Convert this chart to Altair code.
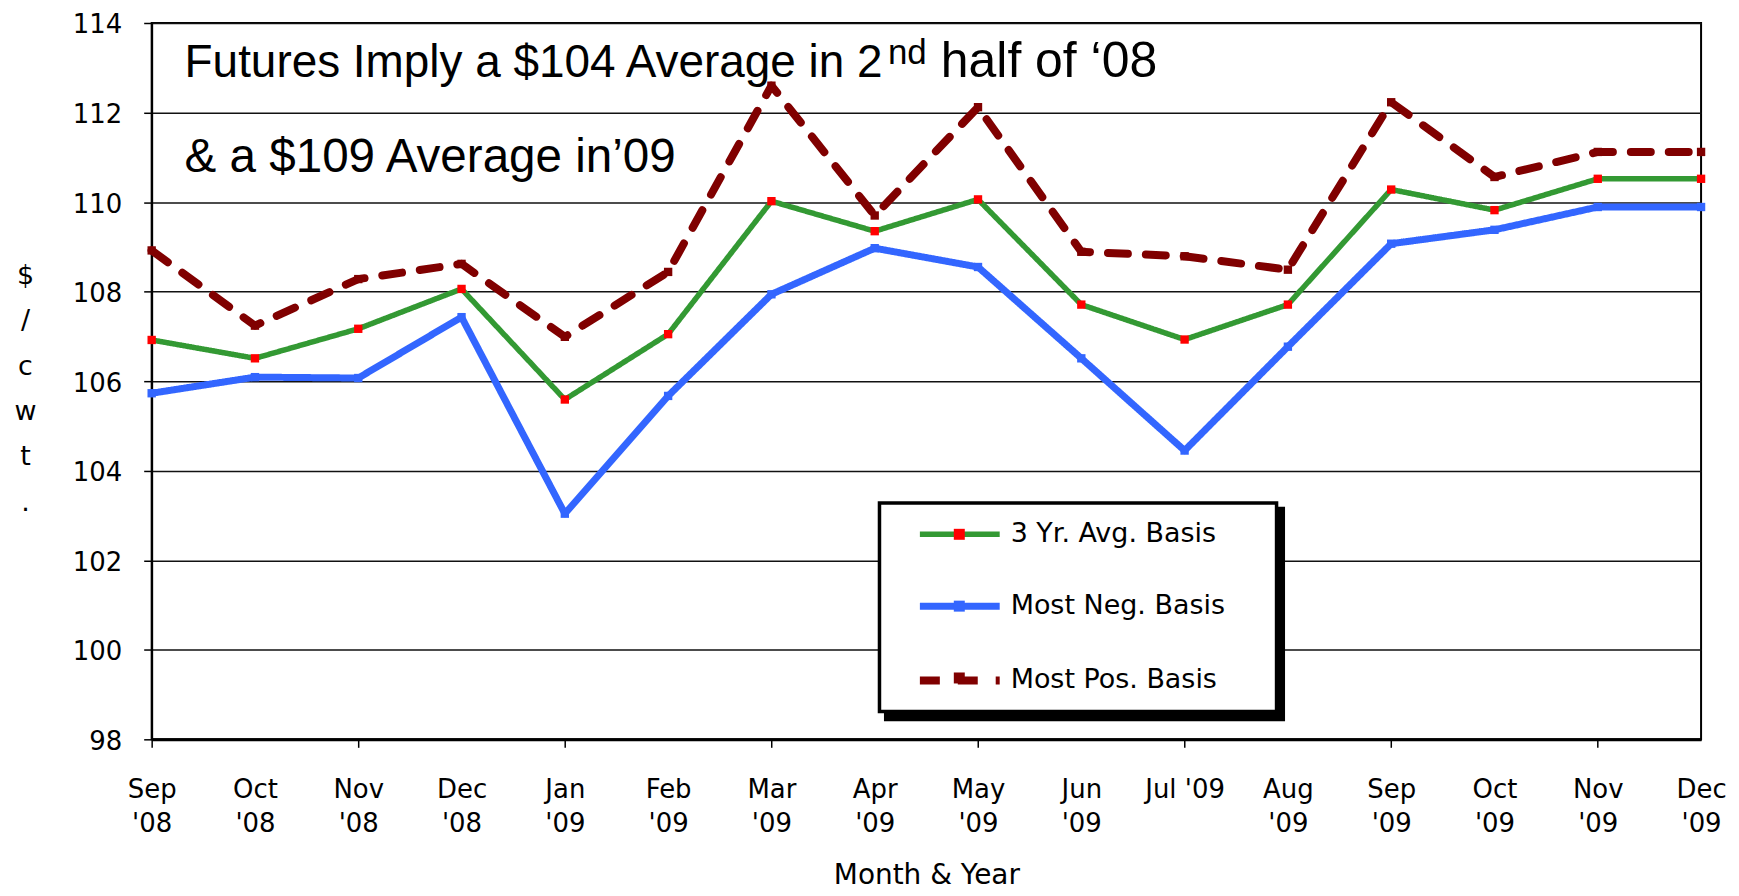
import json
import altair as alt
import pandas as pd

# ---------------- data ----------------
months = ["Sep '08", "Oct '08", "Nov '08", "Dec '08", "Jan '09", "Feb '09",
          "Mar '09", "Apr '09", "May '09", "Jun '09", "Jul '09", "Aug '09",
          "Sep '09", "Oct '09", "Nov '09", "Dec '09"]
series_names = ["3 Yr. Avg. Basis", "Most Neg. Basis", "Most Pos. Basis"]
avg_basis = [106.92, 106.51, 107.17, 108.06, 105.59, 107.05, 110.02, 109.35,
             110.06, 107.71, 106.93, 107.71, 110.28, 109.82, 110.52, 110.52]
neg_basis = [105.73, 106.09, 106.07, 107.43, 103.04, 105.67, 107.94, 108.97,
             108.55, 106.51, 104.45, 106.77, 109.07, 109.38, 109.89, 109.89]
pos_basis = [108.92, 107.24, 108.28, 108.62, 106.99, 108.44, 112.60, 109.70,
             112.12, 108.89, 108.79, 108.49, 112.23, 110.56, 111.12, 111.12]
tick_months = months[::2]
y_ticks = [98, 100, 102, 104, 106, 108, 110, 112, 114]

line_colors = ["#339933", "#3366FF", "#800000"]
marker_colors = ["#FF0000", "#3366FF", "#800000"]

title_line1 = "Futures Imply a $104 Average in 2"
title_sup = "nd"
title_line1b = "half of \u201808"
title_line2 = "& a $109 Average in\u201909"
x_title = "Month & Year"
y_title = ["$", "/", "c", "w", "t", "."]

rows = []
for name, vals in zip(series_names, [avg_basis, neg_basis, pos_basis]):
    for m, v in zip(months, vals):
        rows.append({"month": m, "value": v, "series": name, "marker": name})
df = pd.DataFrame(rows)

FONT = "DejaVu Sans"

tick_test = "indexof(" + json.dumps(tick_months) + ", datum.value) >= 0"
label_expr = "datum.value == \"Jul '09\" ? datum.value : split(datum.value, ' ')"

x_enc = alt.X(
    "month:N", sort=months,
    scale=alt.Scale(domain=months, padding=0),
    axis=alt.Axis(
        title=x_title, labelAngle=0, labelExpr=label_expr,
        labelFont=FONT, labelFontSize=26, labelLineHeight=34, labelPadding=29,
        labelBaseline="top", labelColor="black", labelOverlap=False, labelFlush=False,
        tickSize=8, tickColor="black", tickWidth=1.5,
        tickOpacity={"condition": {"test": tick_test, "value": 1}, "value": 0},
        domainColor="black", domainWidth=3, grid=False,
        titleFont=FONT, titleFontSize=28, titleFontWeight="normal", titleColor="black",
        titleBaseline="alphabetic", titleY=145,
    ),
)

y_enc = alt.Y(
    "value:Q",
    scale=alt.Scale(domain=[98, 114], nice=False, zero=False),
    axis=alt.Axis(
        values=y_ticks, format="d",
        title=y_title, titleAngle=0, titleAlign="center", titleBaseline="alphabetic",
        titleX=-127, titleY=261, titleLineHeight=45.5,
        titleFont=FONT, titleFontSize=27, titleFontWeight="normal", titleColor="black",
        labelFont=FONT, labelFontSize=26, labelPadding=22, labelOffset=2, labelColor="black",
        tickSize=8, tickColor="black", tickWidth=1.5,
        domainColor="black", domainWidth=2,
        gridColor="#111111", gridWidth=1.5,
    ),
)

line_legend = alt.Legend(
    title=None, orient="none", legendX=796, legendY=499, direction="vertical",
    symbolType="M-4,0L4,0", symbolSize=400, symbolStrokeWidth=4,
    labelFont=FONT, labelFontSize=27, labelColor="black", labelOffset=37,
    labelLimit=500, rowPadding=44, padding=0, zindex=1,
)
marker_legend = alt.Legend(
    title=None, orient="none", legendX=796, legendY=499, direction="vertical",
    symbolType="M-0.55,-0.55L0.55,-0.55L0.55,0.55L-0.55,0.55Z", symbolSize=400,
    symbolStrokeWidth=0, labelFont=FONT, labelFontSize=27, labelExpr="''",
    labelOffset=37, rowPadding=44, padding=0, zindex=2,
)

lines = alt.Chart(df).mark_line(strokeCap="round", strokeJoin="round").encode(
    x=x_enc,
    y=y_enc,
    color=alt.Color("series:N", scale=alt.Scale(domain=series_names, range=line_colors),
                    legend=line_legend),
    strokeDash=alt.StrokeDash("series:N",
                              scale=alt.Scale(domain=series_names,
                                              range=[[1, 0], [1, 0], [20, 18]]),
                              legend=line_legend),
    strokeWidth=alt.StrokeWidth("series:N",
                                scale=alt.Scale(type="ordinal", domain=series_names,
                                                range=[5.5, 7, 8]),
                                legend=None),
)

# marker scale keeps a data-driven domain (alphabetical = series order) so that
# Vega-Lite does not merge its legend with the line legend
points = alt.Chart(df).mark_point(filled=True, shape="square", size=70,
                                  strokeWidth=0, opacity=1).encode(
    x=alt.X("month:N", sort=months),
    y=alt.Y("value:Q"),
    fill=alt.Fill("marker:N", scale=alt.Scale(range=marker_colors),
                  legend=marker_legend),
)

one = alt.Data(values=[{"k": 1}])
shadow = alt.Chart(one).mark_rect(color="black").encode(
    x=alt.value(734), x2=alt.value(1136), y=alt.value(485), y2=alt.value(700))
box = alt.Chart(one).mark_rect(fill="white", stroke="black", strokeWidth=3.5).encode(
    x=alt.value(729.5), x2=alt.value(1127.5), y=alt.value(481), y2=alt.value(690))


def title_text(txt, dx, yval, size):
    return alt.Chart(pd.DataFrame({"label": [txt]})).mark_text(
        align="left", baseline="alphabetic", font="Liberation Sans",
        fontSize=size, color="black").encode(
        x=alt.value(dx), y=alt.datum(yval), text="label:N")


t1 = title_text(title_line1, 33, 112.79, 46)
t_sup = title_text(title_sup, 738, 113.09, 35)
t1b = title_text(title_line1b, 791, 112.79, 50)
t2 = title_text(title_line2, 33, 110.67, 47.7)

chart = alt.layer(shadow, box, lines, points, t1, t_sup, t1b, t2).properties(
    width=1553, height=718,
    padding={"left": 144, "top": 14, "right": 30, "bottom": 154},
    autosize=alt.AutoSizeParams(type="none"),
    background="white",
).configure_view(stroke="black", strokeWidth=2)

chart.save("out.html", embed_options={"renderer": "svg", "actions": False})
